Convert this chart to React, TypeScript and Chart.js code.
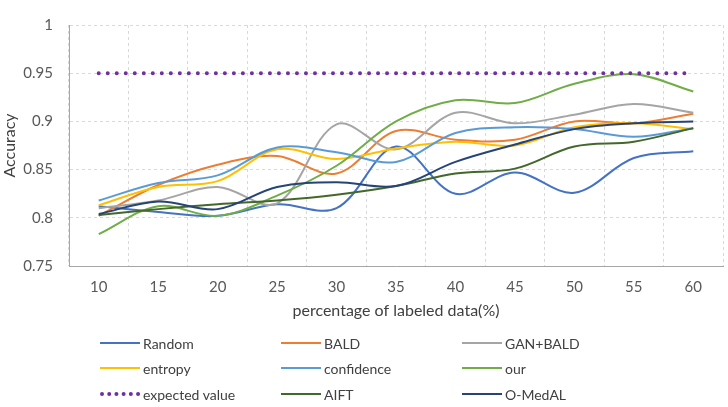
import React, { useEffect, useRef } from "react";
import { Chart, registerables } from "chart.js";

Chart.register(...registerables);

const categories = ["10", "15", "20", "25", "30", "35", "40", "45", "50", "55", "60"];
const randomVals = [0.812, 0.806, 0.802, 0.814, 0.81, 0.874, 0.825, 0.847, 0.826, 0.862, 0.869];
const baldVals = [0.802, 0.834, 0.855, 0.864, 0.846, 0.89, 0.881, 0.881, 0.9, 0.898, 0.908];
const ganBaldVals = [0.81, 0.818, 0.832, 0.815, 0.897, 0.871, 0.909, 0.898, 0.907, 0.918, 0.909];
const entropyVals = [0.813, 0.832, 0.838, 0.871, 0.861, 0.872, 0.879, 0.875, 0.894, 0.898, 0.892];
const confidenceVals = [0.818, 0.836, 0.844, 0.873, 0.868, 0.858, 0.888, 0.894, 0.892, 0.884, 0.893];
const ourVals = [0.783, 0.812, 0.802, 0.823, 0.854, 0.9, 0.922, 0.919, 0.939, 0.949, 0.931];
const expectedVals = [0.95, 0.95, 0.95, 0.95, 0.95, 0.95, 0.95, 0.95, 0.95, 0.95, 0.95];
const aiftVals = [0.803, 0.809, 0.814, 0.818, 0.824, 0.833, 0.846, 0.851, 0.874, 0.879, 0.893];
const oMedalVals = [0.804, 0.817, 0.809, 0.832, 0.837, 0.833, 0.858, 0.876, 0.892, 0.898, 0.9];

const seriesNames = ["Random", "BALD", "GAN+BALD", "entropy", "confidence", "our", "expected value", "AIFT", "O-MedAL"];
const seriesValues = [randomVals, baldVals, ganBaldVals, entropyVals, confidenceVals, ourVals, expectedVals, aiftVals, oMedalVals];
const seriesColors = ["#4472C4", "#ED7D31", "#A5A5A5", "#FFC000", "#5B9BD5", "#70AD47", "#7030A0", "#43682B", "#264478"];
const dottedIndex = 6;

const FONT = "Lato, 'Open Sans', sans-serif";

export default function App() {
  const ref = useRef<HTMLCanvasElement | null>(null);

  useEffect(() => {
    if (!ref.current) return;
    const datasets = seriesNames.map((name, i) => {
      const dotted = i === dottedIndex;
      return {
        label: name,
        data: seriesValues[i],
        borderColor: seriesColors[i],
        backgroundColor: seriesColors[i],
        borderWidth: dotted ? 4 : 2,
        borderDash: dotted ? [0.01, 9] : [],
        borderCapStyle: dotted ? ("round" as const) : ("butt" as const),
        pointRadius: 0,
        tension: dotted ? 0 : 0.35,
        fill: false,
        order: -i,
      };
    });
    const chart = new Chart(ref.current, {
      type: "line",
      data: { labels: categories, datasets },
      options: {
        animation: false,
        responsive: false,
        maintainAspectRatio: false,
        layout: { padding: { left: 0, right: 5, top: 12, bottom: 87 } },
        plugins: { legend: { display: false }, tooltip: { enabled: false } },
        scales: {
          x: {
            type: "category",
            offset: true,
            afterFit: (s: any) => {
              s.height = 54;
            },
            grid: {
              offset: true,
              drawTicks: false,
              color: "#D9D9D9",
              lineWidth: 1,
            },
            border: { display: true, color: "#A6A6A6", width: 1, dash: [3, 3] },
            ticks: {
              padding: 12,
              color: "#595959",
              font: { family: FONT, size: 15 },
              maxRotation: 0,
              autoSkip: false,
            },
            title: {
              display: true,
              text: "percentage of labeled data(%)",
              color: "#404040",
              font: { family: FONT, size: 16 },
              padding: { top: 0, bottom: 0 },
            },
          },
          y: {
            min: 0.75,
            max: 1,
            afterFit: (s: any) => {
              s.width = 69;
            },
            grid: {
              drawTicks: false,
              color: "#D9D9D9",
              lineWidth: 1,
            },
            border: { display: true, color: "#A6A6A6", width: 1, dash: [3, 3] },
            ticks: {
              stepSize: 0.05,
              padding: 16,
              color: "#595959",
              font: { family: FONT, size: 15 },
              callback: (v: any) => String(Math.round(Number(v) * 100) / 100),
            },
            title: {
              display: true,
              text: "Accuracy",
              color: "#404040",
              font: { family: FONT, size: 16 },
              padding: { top: 0, bottom: 0 },
            },
          },
        },
      },
    });
    return () => chart.destroy();
  }, []);

  const colX = [100, 281, 462];
  const rowY = [343, 368, 394];

  return (
    <div style={{ position: "absolute", left: 0, top: 0, width: 728, height: 407, background: "#fff" }}>
      <canvas ref={ref} width={728} height={407} style={{ display: "block" }} />
      {seriesNames.map((name, i) => {
        const col = i % 3;
        const row = Math.floor(i / 3);
        const dotted = i === dottedIndex;
        return (
          <div
            key={name}
            style={{
              position: "absolute",
              left: colX[col],
              top: rowY[row] - 10,
              height: 20,
              display: "flex",
              alignItems: "center",
              fontFamily: FONT,
              fontSize: 14,
              color: "#404040",
              whiteSpace: "nowrap",
            }}
          >
            <svg width={42} height={20} style={{ display: "block", marginRight: 1 }}>
              {dotted ? (
                <line x1={2} y1={10} x2={40} y2={10} stroke={seriesColors[i]} strokeWidth={4} strokeLinecap="round" strokeDasharray="0.01 7.2" />
              ) : (
                <line x1={0} y1={10} x2={40} y2={10} stroke={seriesColors[i]} strokeWidth={2} />
              )}
            </svg>
            <span>{name}</span>
          </div>
        );
      })}
    </div>
  );
}
